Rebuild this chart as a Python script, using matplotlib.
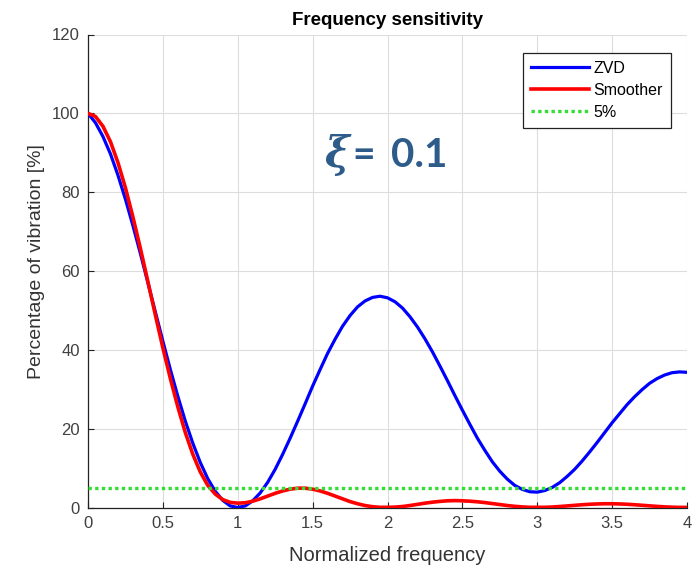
import numpy as np
import matplotlib
matplotlib.use("Agg")
import matplotlib.pyplot as plt

# ---- data ----
freq = [round(0.05 * i, 2) for i in range(81)]

zvd = [100.0, 97.6, 94.1, 89.7, 84.3, 78.2, 71.5, 64.4, 57.0, 49.6,
       42.2, 35.0, 28.2, 21.9, 16.3, 11.4, 7.3, 4.1, 1.8, 0.4,
       0.0, 0.4, 1.7, 3.7, 6.4, 9.7, 13.5, 17.6, 21.9, 26.3,
       30.8, 35.0, 39.1, 42.7, 46.0, 48.7, 50.9, 52.4, 53.3, 53.6,
       53.2, 52.2, 50.6, 48.4, 45.8, 42.8, 39.5, 35.9, 32.2, 28.4,
       24.7, 21.1, 17.6, 14.5, 11.6, 9.2, 7.2, 5.6, 4.6, 4.0,
       3.9, 4.3, 5.1, 6.3, 7.9, 9.7, 11.8, 14.1, 16.5, 19.0,
       21.5, 23.8, 26.1, 28.1, 29.9, 31.5, 32.7, 33.6, 34.2, 34.4,
       34.3]

smoother = [100.0, 99.2, 96.7, 92.8, 87.5, 81.1, 73.7, 65.7, 57.3, 48.8,
            40.5, 32.7, 25.5, 19.0, 13.5, 9.0, 5.6, 3.4, 2.0, 1.3,
            1.1, 1.2, 1.6, 2.2, 2.9, 3.6, 4.2, 4.65, 4.9, 4.9,
            4.65, 4.2, 3.6, 2.9, 2.2, 1.5, 0.95, 0.5, 0.2, 0.05,
            0.05, 0.1, 0.25, 0.5, 0.8, 1.1, 1.35, 1.55, 1.7, 1.75,
            1.7, 1.6, 1.45, 1.25, 1.0, 0.75, 0.5, 0.3, 0.15, 0.05,
            0.05, 0.05, 0.12, 0.25, 0.4, 0.55, 0.7, 0.82, 0.9, 0.95,
            0.95, 0.9, 0.82, 0.7, 0.56, 0.42, 0.28, 0.16, 0.08, 0.03,
            0.02]

limit_level = 5
xticks = [0, 0.5, 1, 1.5, 2, 2.5, 3, 3.5, 4]
xtick_labels = ["0", "0.5", "1", "1.5", "2", "2.5", "3", "3.5", "4"]
yticks = [0, 20, 40, 60, 80, 100, 120]
series_names = ["ZVD", "Smoother", "5%"]

# ---- figure ----
plt.rcParams['font.family'] = ['Liberation Sans', 'DejaVu Sans']
W, H = 700, 571
fig = plt.figure(figsize=(W / 100, H / 100), dpi=100)
ax = fig.add_axes([88 / W, (H - 507.5) / H, (687 - 88) / W, (507.5 - 34.5) / H])

ax.plot(freq, zvd, color='#0000FF', lw=2.3, label=series_names[0], zorder=3)
ax.plot(freq, smoother, color='#FF0000', lw=2.6, label=series_names[1], zorder=4)
ax.plot([freq[0], freq[-1]], [limit_level, limit_level], color='#33DD33', lw=2.4,
        linestyle=(0, (1, 1.0)), label=series_names[2], zorder=5)

ax.set_xlim(0, 4)
ax.set_ylim(0, 120)
ax.set_xticks(xticks)
ax.set_xticklabels(xtick_labels)
ax.set_yticks(yticks)

ax.grid(True, color='#DDDDDD', lw=0.8)
ax.set_axisbelow(True)
for s in ['top', 'right']:
    ax.spines[s].set_visible(False)
for s in ['left', 'bottom']:
    ax.spines[s].set_color('#222222')
    ax.spines[s].set_linewidth(0.9)
ax.tick_params(direction='in', length=4, width=0.8, labelsize=12,
               labelcolor='#404040', color='#222222', pad=6)

ax.set_title("Frequency sensitivity", fontsize=13.5, fontweight='bold', pad=7)
ax.set_xlabel("Normalized frequency", fontsize=14.5, color='#333333', labelpad=11)
ax.set_ylabel("Percentage of vibration [%]", fontsize=14, color='#333333')
ax.yaxis.set_label_coords(-0.072, 0.52)

leg = ax.legend(loc='upper right', bbox_to_anchor=(0.973, 0.9615), borderaxespad=0,
                fontsize=11.5, handlelength=3.6, frameon=True, fancybox=False,
                framealpha=1, edgecolor='#222222', labelspacing=0.45,
                borderpad=0.5, handletextpad=0.3)
leg.get_frame().set_linewidth(0.9)

col = '#2E5C8A'
base = (H - 166.7) / H
fig.text(325 / W, base, "ξ", fontsize=30, family='DejaVu Serif',
         style='italic', fontweight='bold', color=col, ha='left', va='baseline')
fig.text(352 / W, base, "=", fontsize=28, family=['Lato', 'DejaVu Sans'],
         fontweight='bold', color=col, ha='left', va='baseline')
fig.text(391 / W, base, "0.1", fontsize=29, family=['Lato', 'DejaVu Sans'],
         fontweight='bold', color=col, ha='left', va='baseline')

fig.savefig("out.png", dpi=100)
